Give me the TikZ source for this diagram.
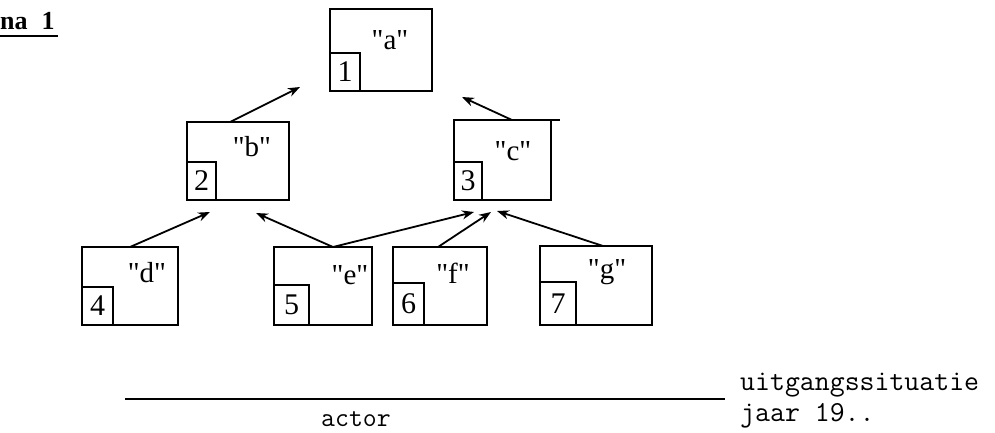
\documentclass[tikz,border=0pt]{standalone}
\usepackage{fontspec}
\setmainfont{Liberation Serif}
\newfontfamily\labfont{Liberation Serif}
\usetikzlibrary{calc,arrows.meta}
\begin{document}
\begin{tikzpicture}[x=1pt,y=-1pt,
 box/.style={draw,line width=1.8pt,inner sep=0pt,outer sep=0pt},
 numbox/.style={draw,line width=1.5pt,inner sep=0pt,outer sep=0pt,anchor=south west,font=\labfont\fontsize{30}{30}\selectfont},
 lab/.style={font=\labfont\fontsize{29}{29}\selectfont},
 mono/.style={font=\ttfamily\fontsize{29}{29}\selectfont,inner sep=0pt},
 arr/.style={line width=1.8pt,-{Stealth[length=12pt,width=9pt]}}]
\useasboundingbox (0,0) rectangle (995,432);
% main boxes
\node[box,minimum width=102pt,minimum height=82pt] (a) at (381,50) {};
\node[box,minimum width=102pt,minimum height=78pt] (b) at (238,161) {};
\node[box,minimum width=97pt,minimum height=80pt] (c) at (502.5,160) {};
\node[box,minimum width=96pt,minimum height=78pt] (d) at (130,286) {};
\node[box,minimum width=98pt,minimum height=78pt] (e) at (323,286) {};
\node[box,minimum width=94pt,minimum height=78pt] (f) at (440,286) {};
\node[box,minimum width=112pt,minimum height=79pt] (g) at (596,285.5) {};
\draw[line width=1.8pt] (c.north east) -- ++(9,0);
% number boxes
\node[numbox,minimum width=30pt,minimum height=38pt] (a1) at (a.south west) {1};
\node[numbox,minimum width=29pt,minimum height=38pt] (b1) at (b.south west) {2};
\node[numbox,minimum width=28pt,minimum height=38pt] (c1) at (c.south west) {3};
\node[numbox,minimum width=31pt,minimum height=38pt] (d1) at (d.south west) {4};
\node[numbox,minimum width=35pt,minimum height=40pt] (e1) at (e.south west) {5};
\node[numbox,minimum width=31pt,minimum height=42pt] (f1) at (f.south west) {6};
\node[numbox,minimum width=36pt,minimum height=43pt] (g1) at (g.south west) {7};
% labels
\node[lab] (la) at (390,40) {"a"};
\node[lab] (lb) at (252,147) {"b"};
\node[lab] (lc) at (513,151) {"c"};
\node[lab] (ld) at (147,273) {"d"};
\node[lab] (le) at (350,275) {"e"};
\node[lab] (lf) at (453,273) {"f"};
\node[lab] (lg) at (607,272) {"g"};
% arrow end points
\coordinate (ta) at ($(a.south west)+(-30,-4)$);
\coordinate (ta2) at ($(a.south east)+(30,6)$);
\coordinate (tb1) at ($(b.south west)+(23,12)$);
\coordinate (tb2) at ($(b.south east)+(-33,13)$);
\coordinate (tc1) at ($(c.south west)+(20,12)$);
\coordinate (tc2) at ($(c.south west)+(37,12)$);
\coordinate (tc3) at ($(c.south west)+(43,11)$);
\draw[arr] ($(b.north west)+(43,0)$) -- (ta);
\draw[arr] ($(c.north west)+(58,0)$) -- (ta2);
\draw[arr] ($(d.north west)+(48,0)$) -- (tb1);
\draw[arr] ($(e.north west)+(59,0)$) -- (tb2);
\draw[arr] ($(e.north west)+(59,0)$) -- (tc1);
\draw[arr] ($(f.north west)+(45,0)$) -- (tc2);
\draw[arr] ($(g.north west)+(63,0)$) -- (tc3);
% title
\node[anchor=base west,inner sep=0pt,font=\bfseries\fontsize{26}{26}\selectfont] (title) at (0,29) {na\hspace{14pt}1};
\draw[line width=1.8pt] ($(title.base west)+(0,7)$) -- ++(58,0);
% baseline
\coordinate (l1) at (125,399);
\coordinate (l2) at (725,399);
\draw[line width=1.5pt] (l1) -- (l2);
\node[mono,anchor=base,font=\ttfamily\fontsize{27}{27}\selectfont] (actor) at (356,426) {actor};
\node[mono,anchor=base west] (u1) at (740,390) {uitgangssituatie};
\node[mono,anchor=base west] (u2) at (740,421) {jaar 19..};
\end{tikzpicture}
\end{document}
